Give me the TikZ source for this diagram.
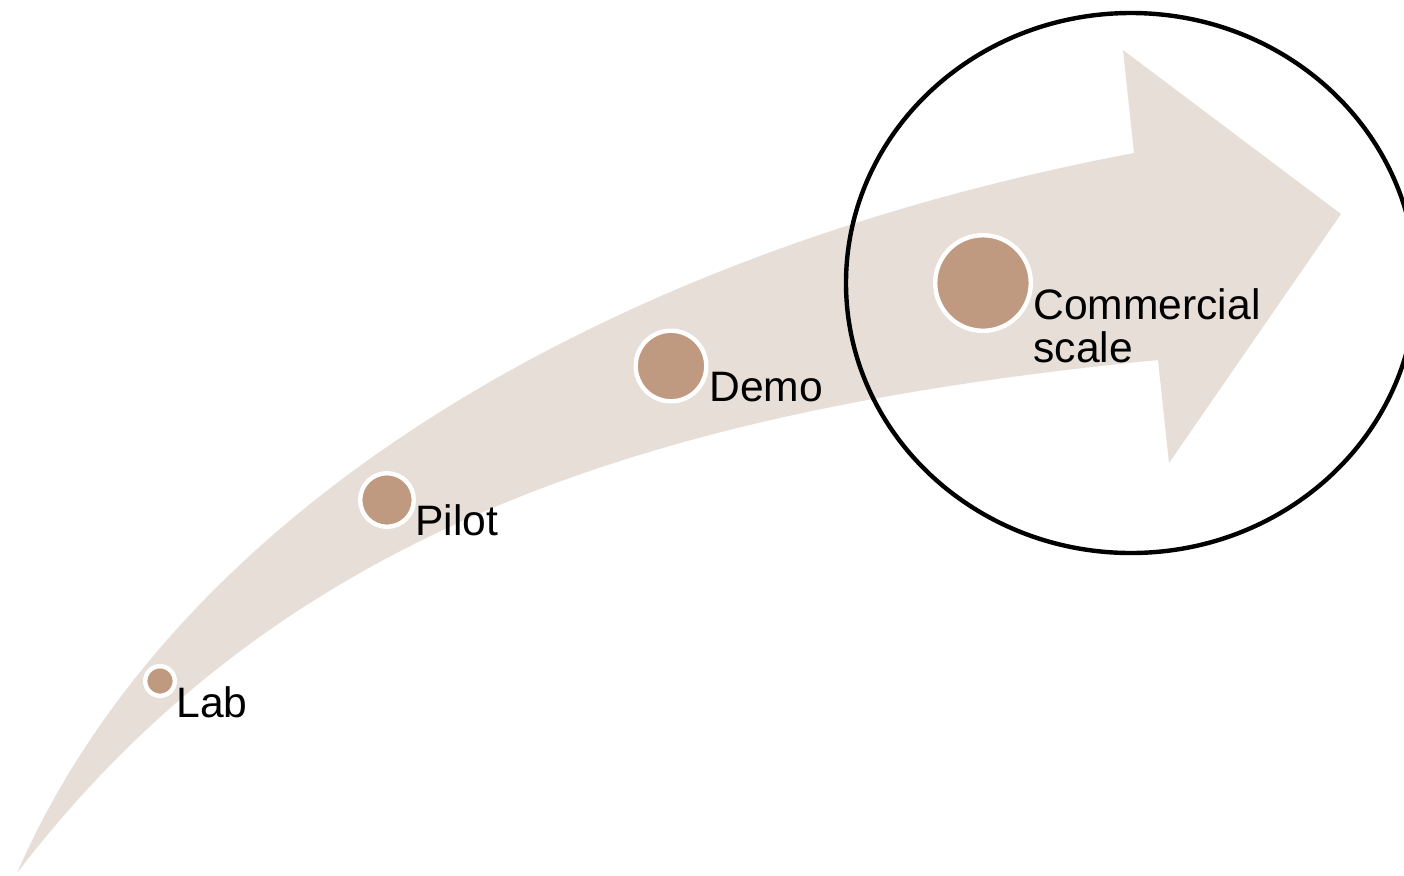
\documentclass[tikz,border=0pt]{standalone}
\usepackage{fontspec}
\setmainfont{Liberation Sans}
\definecolor{band}{HTML}{E7DED8}
\definecolor{dot}{HTML}{BF9A80}
\tikzset{
  stage/.style={circle, fill=dot, draw=white, line width=2.2pt, inner sep=0pt},
  lbl/.style={anchor=base west, inner sep=0pt, font=\fontsize{21.3}{25}\selectfont, text=black},
}
\begin{document}
\begin{tikzpicture}[x=0.5pt,y=-0.5pt]
\useasboundingbox (0,0) rectangle (1404,875);
% curved arrow band
\fill[band] (17,873) .. controls (180,500) and (620,250) .. (1134,153)
  -- (1123,50) -- (1341,214) -- (1169,463) -- (1158,360)
  .. controls (650,410) and (280,530) .. (17,873) -- cycle;
% highlight ellipse
\draw[line width=2.2pt, black] (1131,283) ellipse [x radius=285, y radius=270];
% stage dots
\node[stage, minimum size=14.8pt] (lab) at (160,681) {};
\node[stage, minimum size=26.8pt] (pilot) at (387,500) {};
\node[stage, minimum size=35.3pt] (demo) at (671,366) {};
\node[stage, minimum size=47.8pt] (comm) at (983,283) {};
% labels
\node[lbl] (tlab) at (176,717) {Lab};
\node[lbl] (tpilot) at (415,535) {Pilot};
\node[lbl] (tdemo) at (709,401) {Demo};
\node[lbl] (tcomm1) at (1033,319) {Commercial};
\node[lbl] (tcomm2) at (1033,362) {scale};
\end{tikzpicture}
\end{document}
